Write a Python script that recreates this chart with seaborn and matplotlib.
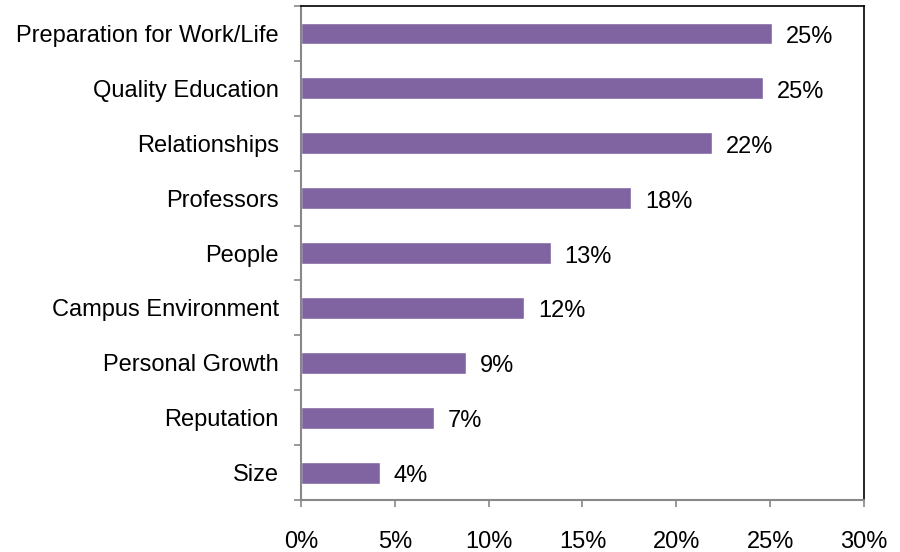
import matplotlib
matplotlib.use('Agg')
import matplotlib.pyplot as plt
import seaborn as sns
import pandas as pd
import numpy as np

# values (percent)
categories = ['Preparation for Work/Life', 'Quality Education', 'Relationships',
              'Professors', 'People', 'Campus Environment', 'Personal Growth',
              'Reputation', 'Size']
values = [25.1, 24.6, 21.9, 17.6, 13.3, 11.9, 8.8, 7.1, 4.2]
x_ticks = [0, 5, 10, 15, 20, 25, 30]

df = pd.DataFrame({'Category': categories, 'Share': values})

sns.set_style('white')
plt.rcParams['font.family'] = ['Liberation Sans', 'DejaVu Sans']
plt.rcParams['text.color'] = 'black'
plt.rcParams['xtick.labelcolor'] = 'black'
plt.rcParams['ytick.labelcolor'] = 'black'

fig = plt.figure(figsize=(9, 5.52), dpi=100)
ax = fig.add_axes([0.3344, 0.0942, 0.6256, 0.8948])

sns.barplot(data=df, y='Category', x='Share', orient='h', color='#8064A2',
            width=0.4, saturation=1, ax=ax)

# data labels
for i, v in enumerate(values):
    ax.annotate(f'{round(v):.0f}%', xy=(v, i), xytext=(10, -2.5), color='black',
                textcoords='offset points', va='center', ha='left', fontsize=17)

ax.set_xlim(0, 30)
ax.set_ylim(len(categories) - 0.5, -0.5)
ax.set_xticks(x_ticks)
ax.set_xticklabels([f'{t}%' for t in x_ticks], fontsize=17, color='black')
ax.set_yticks(range(len(categories)))
ax.set_yticklabels(categories, fontsize=17, color='black')
ax.set_yticks(np.arange(-0.5, len(categories), 1), minor=True)
ax.set_xlabel('')
ax.set_ylabel('')

ax.tick_params(axis='y', which='major', length=0, pad=16)
ax.tick_params(axis='y', which='minor', length=5, width=1.2, color='#888888', direction='out', left=True)
ax.tick_params(axis='x', which='major', length=5, width=1.2, color='#888888', direction='out', pad=17, bottom=True)

for side in ['left', 'bottom']:
    ax.spines[side].set_color('#888888')
    ax.spines[side].set_linewidth(1.5)
for side in ['top', 'right']:
    ax.spines[side].set_color('black')
    ax.spines[side].set_linewidth(1.2)

fig.savefig('out.png', dpi=100)
